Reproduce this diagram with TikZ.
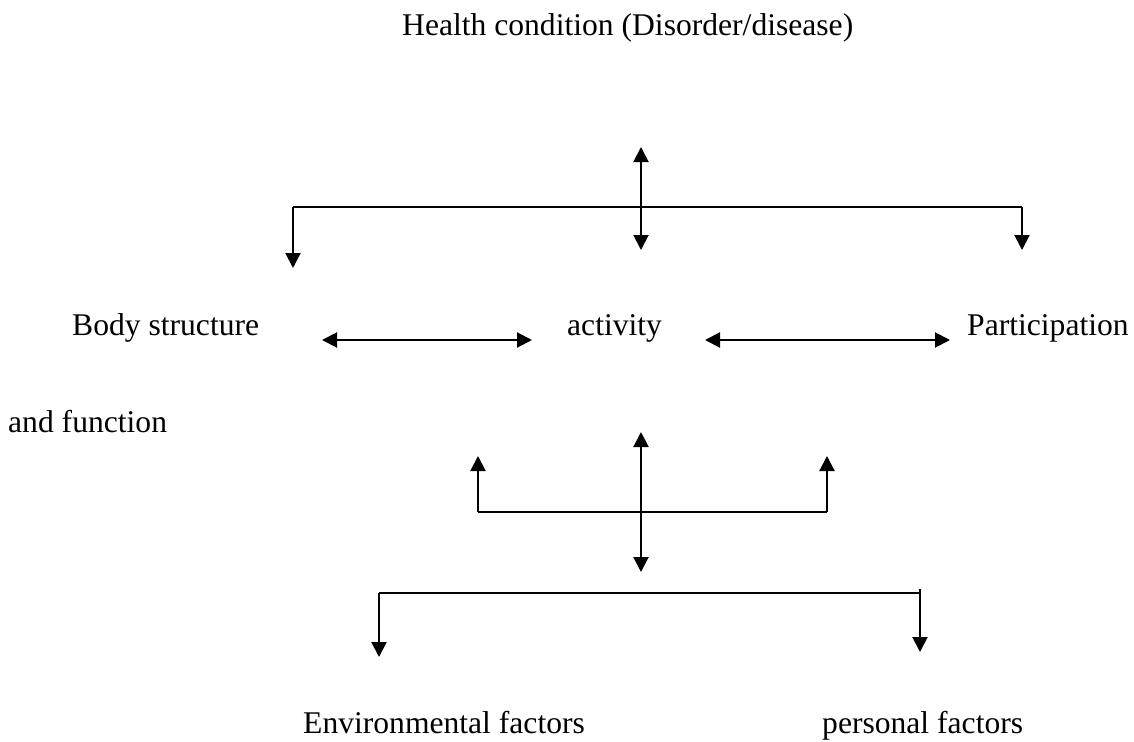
\documentclass[tikz,border=0pt]{standalone}
\usepackage{fontspec}
\setmainfont{Liberation Serif}
\usetikzlibrary{arrows.meta}
\begin{document}
\begin{tikzpicture}[x=1bp,y=-1bp,
  lbl/.style={inner sep=0pt,anchor=base west,font=\fontsize{31.6bp}{38bp}\selectfont},
  conn/.style={line width=2bp,-{Triangle[length=15bp,width=15bp]}},
  dconn/.style={line width=2bp,{Triangle[length=15bp,width=15bp]}-{Triangle[length=15bp,width=15bp]}},
  seg/.style={line width=2bp}]
\useasboundingbox (0,0) rectangle (1134,742);
% text nodes
\node[lbl] (title) at (402,36) {Health condition (Disorder/disease)};
\node[lbl] (body) at (72,335) {Body structure};
\node[lbl] (andf) at (8,432) {and function};
\node[lbl] (act) at (567,335) {activity};
\node[lbl] (part) at (967,335) {Participation};
\node[lbl] (env) at (303,733) {Environmental factors};
\node[lbl] (pers) at (822,733) {personal factors};
% top bracket
\coordinate (tU) at (641,147);
\coordinate (tD) at (641,250);
\coordinate (tL) at (293,207);
\coordinate (tR) at (1022,207);
\coordinate (tLe) at (293,268);
\coordinate (tRe) at (1022,250);
\draw[seg] (tL) -- (tR);
\draw[dconn] (tU) -- (tD);
\draw[conn] (tL) -- (tLe);
\draw[conn] (tR) -- (tRe);
% middle horizontal arrows
\coordinate (h1a) at (322,340);
\coordinate (h1b) at (532,340);
\coordinate (h2a) at (705,340);
\coordinate (h2b) at (950,340);
\draw[dconn] (h1a) -- (h1b);
\draw[dconn] (h2a) -- (h2b);
% middle bracket
\coordinate (mU) at (641,432);
\coordinate (mD) at (641,572);
\coordinate (mL) at (478,512);
\coordinate (mR) at (827,512);
\coordinate (mLe) at (478,456);
\coordinate (mRe) at (827,456);
\draw[seg] (mL) -- (mR);
\draw[dconn] (mU) -- (mD);
\draw[conn] (mL) -- (mLe);
\draw[conn] (mR) -- (mRe);
% bottom bracket
\coordinate (bL) at (379,593);
\coordinate (bR) at (920,593);
\coordinate (bRs) at (920,589);
\coordinate (bLe) at (379,657);
\coordinate (bRe) at (920,652);
\draw[seg] (bL) -- (bR);
\draw[conn] (bL) -- (bLe);
\draw[conn] (bRs) -- (bRe);
\end{tikzpicture}
\end{document}
